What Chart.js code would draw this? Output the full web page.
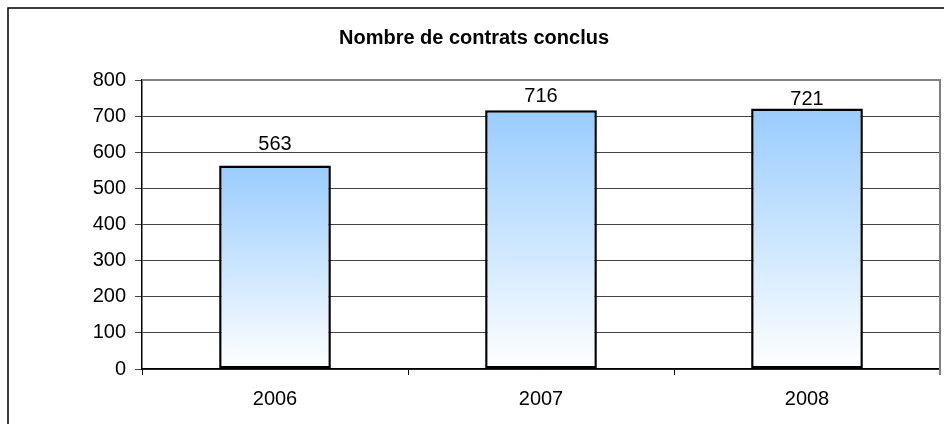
<!DOCTYPE html>
<html>
<head>
<meta charset="utf-8">
<script src="https://cdn.jsdelivr.net/npm/chart.js@4"></script>
<style>
  html, body { margin: 0; padding: 0; background: #fff; }
  #wrap { width: 944px; height: 424px; }
</style>
</head>
<body>
<div id="wrap"><canvas id="chart" width="944" height="424"></canvas></div>
<script>
const years = ['2006', '2007', '2008'];
const contrats = [563, 716, 721];
const yTicks = [0, 100, 200, 300, 400, 500, 600, 700, 800];

const FONT = '"Liberation Sans", Arial, sans-serif';
// distance from bar top to label baseline, as placed in the original
const labelGap = [16, 8, 4];

// gradient per bar, light blue at top fading to white at the base
function barGradient(c) {
  const chart = c.chart;
  if (!chart.chartArea) return '#99ccff';
  const y = chart.scales.y;
  const top = y.getPixelForValue(contrats[c.dataIndex]);
  const bottom = y.getPixelForValue(0);
  const g = chart.ctx.createLinearGradient(0, top, 0, bottom);
  g.addColorStop(0, '#99ccff');
  g.addColorStop(1, '#ffffff');
  return g;
}

// frame, plot border and value labels
const decor = {
  id: 'decor',
  beforeDraw(chart) {
    const ctx = chart.ctx;
    ctx.save();
    ctx.strokeStyle = '#000';
    ctx.lineWidth = 1.5;
    ctx.strokeRect(8, 8, 1000, 1000);
    ctx.restore();
  },
  afterDraw(chart) {
    const ctx = chart.ctx;
    const a = chart.chartArea;
    ctx.save();
    ctx.strokeStyle = '#808080';
    ctx.lineWidth = 2;
    ctx.beginPath();
    ctx.moveTo(a.left, a.top);
    ctx.lineTo(a.right, a.top);
    ctx.lineTo(a.right, a.bottom + 6);
    ctx.stroke();
    ctx.restore();
  },
  afterDatasetsDraw(chart) {
    const ctx = chart.ctx;
    ctx.save();
    ctx.fillStyle = '#000';
    ctx.font = '20px ' + FONT;
    ctx.textAlign = 'center';
    ctx.textBaseline = 'alphabetic';
    chart.getDatasetMeta(0).data.forEach((el, i) => {
      ctx.fillText(String(contrats[i]), el.x, el.y - labelGap[i]);
    });
    ctx.restore();
  }
};

new Chart(document.getElementById('chart'), {
  type: 'bar',
  data: {
    labels: years,
    datasets: [{
      data: contrats,
      backgroundColor: barGradient,
      borderColor: '#000',
      borderWidth: 2.5,
      borderSkipped: false,
      barPercentage: 1,
      categoryPercentage: 0.42
    }]
  },
  options: {
    responsive: false,
    animation: false,
    layout: { padding: { left: 8, right: 4, top: 0, bottom: 0 } },
    plugins: {
      legend: { display: false },
      tooltip: { enabled: false },
      title: {
        display: true,
        text: 'Nombre de contrats conclus',
        color: '#000',
        font: { family: FONT, size: 20, weight: 'bold' },
        padding: { top: 26, bottom: 30 }
      }
    },
    scales: {
      x: {
        offset: true,
        grid: { display: true, drawOnChartArea: false, drawTicks: true, tickLength: 6, color: '#000', offset: true },
        border: { color: '#000', width: 1.5 },
        ticks: { color: '#000', font: { family: FONT, size: 20 }, padding: 12 },
        afterFit(s) { s.height = 55; }
      },
      y: {
        min: 0,
        max: 800,
        afterBuildTicks(s) { s.ticks = yTicks.map(v => ({ value: v })); },
        grid: { color: '#444', lineWidth: 1, tickLength: 7 },
        border: { color: '#000', width: 1.5 },
        ticks: { color: '#000', font: { family: FONT, size: 20 }, padding: 9 },
        afterFit(s) { s.width = 134; }
      }
    }
  },
  plugins: [decor]
});
</script>
</body>
</html>
